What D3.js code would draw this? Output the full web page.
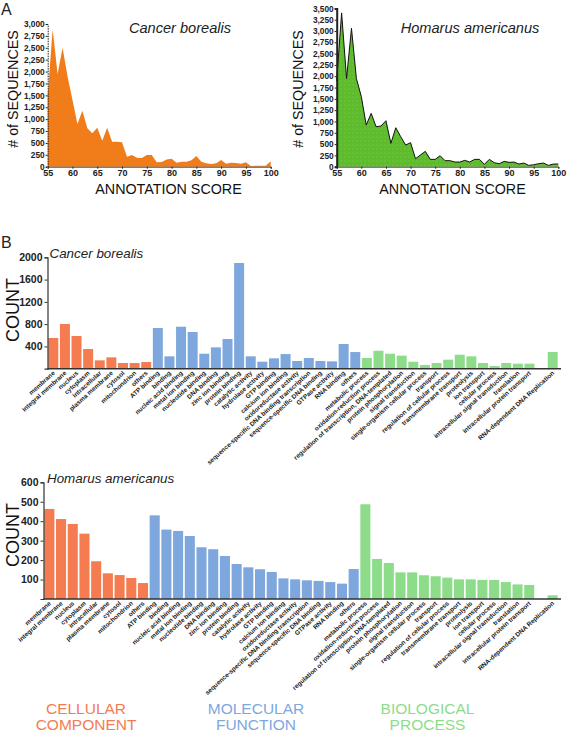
<!DOCTYPE html>
<html><head><meta charset="utf-8">
<script src="https://cdn.jsdelivr.net/npm/d3@7/dist/d3.min.js"></script>
<style>body{margin:0;background:#fff}svg{display:block}text{font-family:"Liberation Sans",Arial,sans-serif}</style>
</head><body><svg id="c" width="567" height="734"></svg>
<script>
// ---------- Panel A data ----------
const scores = [55,56,57,58,59,60,61,62,63,64,65,66,67,68,69,70,71,72,73,74,75,76,77,78,79,80,81,82,83,84,85,86,87,88,89,90,91,92,93,94,95,96,97,98,99,100];
const cancerSeq = [1500,2888,1949,2503,1900,1400,897,1178,806,701,820,547,820,526,526,512,210,245,189,182,245,245,91,98,154,168,84,105,105,133,224,105,70,56,70,140,63,84,77,63,91,14,21,21,21,112];
const homarusSeq = [1900,3400,1950,3060,1950,1550,921,1179,884,899,1017,516,862,663,479,531,177,258,339,162,162,243,133,133,103,103,140,103,162,162,52,162,88,66,118,96,103,59,81,29,44,66,81,29,59,59];
const scoreTicks = [55,60,65,70,75,80,85,90,95,100];
const cancerSeqTicks = [0,250,500,750,1000,1250,1500,1750,2000,2250,2500,2750,3000];
const homarusSeqTicks = [0,250,500,750,1000,1250,1500,1750,2000,2250,2500,2750,3000,3250,3500];

// ---------- Panel B data ----------
const ccCats = ["membrane","integral membrane","nucleus","cytoplasm","intracellular","plasma membrane","cytosol","mitochondrion","others"];
const mfCats = ["ATP binding","binding","nucleic acid binding","metal ion binding","nucleotide binding","DNA binding","zinc ion binding","protein binding","catalytic activity","hydrolase activity","GTP binding","calcium ion binding","oxidoreductase activity","sequence-specific DNA binding transcription","sequence-specific DNA binding","GTPase activity","RNA binding","others "];
const bpCats = ["metabolic process","oxidation-reduction process","regulation of transcription, DNA-templated","protein phosphorylation","signal transduction","single-organism cellular process","transport","regulation of cellular process","transmembrane transport","proteolysis","ion transport","cellular process","intracellular signal transduction","translation","intracellular protein transport","","RNA-dependent DNA Replication"];

const ccCancer = [551,802,587,353,150,204,102,102,120];
const mfCancer = [731,222,754,659,269,383,533,1898,222,126,186,263,138,192,138,132,443,299];
const bpCancer = [192,323,269,234,126,66,102,162,251,222,102,48,102,90,90,null,299];

const ccHomarus = [463,411,386,336,194,132,123,108,82];
const mfHomarus = [430,357,350,324,266,256,221,180,163,153,139,106,101,96,93,87,79,154];
const bpHomarus = [487,206,185,137,137,122,117,110,101,101,98,98,87,75,72,null,19];

const countTicksCancer = [400,800,1200,1600,2000];
const countTicksHomarus = [100,200,300,400,500,600];

const groupNames = [["CELLULAR","COMPONENT"],["MOLECULAR","FUNCTION"],["BIOLOGICAL","PROCESS"]];
const groupColors = ["#f47c50","#7ea7de","#8ddc8a"];

// ---------- drawing ----------
const svg = d3.select("#c");
const FONT = '"Liberation Sans",Arial,sans-serif';

svg.append("text").attr("x",1).attr("y",15).attr("font-size",16).attr("fill","#222").text("A");
svg.append("text").attr("x",1).attr("y",248).attr("font-size",16).attr("fill","#222").text("B");

const defs = svg.append("defs");
const pat = defs.append("pattern").attr("id","dots").attr("width",4).attr("height",4).attr("patternUnits","userSpaceOnUse");
pat.append("rect").attr("width",4).attr("height",4).attr("fill","#5dbb2c");
pat.append("circle").attr("cx",1).attr("cy",1).attr("r",0.45).attr("fill","#a9e08c");

function areaChart(opt){
  const x = d3.scaleLinear().domain([55,100]).range(opt.xr);
  const y = d3.scaleLinear().domain([0,opt.max]).range(opt.yr);
  const data = opt.scores.map((s,i)=>({s, v:opt.vals[i]}));
  const g = svg.append("g");
  g.append("path").datum(data)
    .attr("d", d3.area().x(d=>x(d.s)).y0(y(0)).y1(d=>y(d.v)))
    .attr("fill", opt.fill);
  if(opt.stroke){
    g.append("path").datum(data)
      .attr("d", d3.line().x(d=>x(d.s)).y(d=>y(d.v)))
      .attr("fill","none").attr("stroke",opt.stroke).attr("stroke-width",1);
  }
  const ya = g.append("g").attr("transform",`translate(${opt.xr[0]},0)`)
    .call(d3.axisLeft(y).tickValues(opt.yticks).tickSize(2).tickPadding(1).tickFormat(d3.format(",")));
  ya.select(".domain").attr("stroke","#222").attr("stroke-width",opt.axisW).attr("stroke-dasharray",opt.dash||null);
  ya.selectAll(".tick line").attr("stroke","#222");
  ya.selectAll("text").attr("font-size",8.3).attr("font-weight","bold").attr("fill","#222").attr("font-family",FONT);
  const xa = g.append("g").attr("transform",`translate(0,${opt.yr[0]})`)
    .call(d3.axisBottom(x).tickValues(opt.xticks).tickSize(2).tickPadding(1));
  xa.select(".domain").attr("stroke","#444");
  xa.selectAll(".tick line").attr("stroke","#222");
  xa.selectAll("text").attr("font-size",9).attr("font-weight","bold").attr("fill","#222").attr("font-family",FONT);
  g.append("text").attr("x",opt.xlabX).attr("y",194).attr("text-anchor","middle").attr("font-size",14.3).attr("fill","#111").text("ANNOTATION SCORE");
  g.append("text").attr("transform",`translate(${opt.ylabX},89) rotate(-90)`).attr("text-anchor","middle").attr("font-size",14.3).attr("fill","#111").text("# of SEQUENCES");
  g.append("text").attr("x",opt.titleX).attr("y",33).attr("text-anchor","middle").attr("font-size",14.6).attr("font-style","italic").attr("fill","#222").text(opt.title);
}

areaChart({scores, vals:cancerSeq, xr:[47.7,270.7], yr:[166.7,24], max:3000, fill:"#f07d19",
  yticks:cancerSeqTicks, xticks:scoreTicks, axisW:1, dash:"1.5,1", xlabX:168.5, ylabX:18, titleX:180, title:"Cancer borealis"});
areaChart({scores, vals:homarusSeq, xr:[336.7,558.3], yr:[166.7,8.4], max:3500, fill:"url(#dots)", stroke:"#111",
  yticks:homarusSeqTicks, xticks:scoreTicks, axisW:2, xlabX:452.5, ylabX:302.5, titleX:470, title:"Homarus americanus"});

const allCats = ccCats.concat(mfCats, bpCats);
const catGroup = allCats.map((c,i)=> i<ccCats.length?0:(i<ccCats.length+mfCats.length?1:2));

function barChart(opt){
  const vals = opt.cc.concat(opt.mf, opt.bp);
  const x = d3.scaleBand().domain(allCats).range(opt.xr).paddingInner(0.14).paddingOuter(0.07);
  const y = d3.scaleLinear().domain([0,opt.max]).range(opt.yr);
  const g = svg.append("g");
  g.selectAll("rect").data(allCats.map((c,i)=>({c,v:vals[i],grp:catGroup[i]})).filter(d=>d.v!=null))
    .enter().append("rect")
    .attr("x",d=>x(d.c)).attr("width",x.bandwidth())
    .attr("y",d=>y(d.v)).attr("height",d=>y(0)-y(d.v))
    .attr("fill",d=>groupColors[d.grp]);
  const ya = g.append("g").attr("transform",`translate(${opt.axisX},0)`)
    .call(d3.axisLeft(y).tickValues(opt.ticks).tickSize(3).tickPadding(2).tickFormat(d3.format("d")));
  ya.select(".domain").attr("stroke","#333").attr("stroke-width",1.2);
  ya.selectAll(".tick line").attr("stroke","#333");
  ya.selectAll("text").attr("font-size",10.5).attr("font-weight","bold").attr("fill","#222").attr("font-family",FONT);
  g.append("line").attr("x1",opt.axisX).attr("x2",561).attr("y1",y(0)).attr("y2",y(0)).attr("stroke","#333").attr("stroke-width",1.5);
  g.selectAll("text.xl").data(allCats.filter(c=>c!=="")).enter().append("text").attr("class","xl")
    .attr("transform",c=>`translate(${x(c)+x.bandwidth()/2+2},${y(0)+5}) rotate(-42)`)
    .attr("text-anchor","end").attr("font-size",6.4).attr("font-weight","bold").attr("fill","#1a1a1a")
    .text(c=>c.trim());
  g.append("text").attr("x",opt.titleX).attr("y",opt.titleY).attr("font-size",13.4).attr("font-style","italic").attr("fill","#222").text(opt.title);
  g.append("text").attr("transform",`translate(19,${opt.countY}) rotate(-90)`).attr("text-anchor","middle").attr("font-size",18).attr("fill","#111").text("COUNT");
}

barChart({cc:ccCancer, mf:mfCancer, bp:bpCancer, xr:[47.5,558.5], yr:[368.7,257.3], max:2000, axisX:47.5,
  ticks:countTicksCancer, title:"Cancer borealis", titleX:49.5, titleY:258, countY:310});
barChart({cc:ccHomarus, mf:mfHomarus, bp:bpHomarus, xr:[43.5,558.5], yr:[599,482.3], max:600, axisX:43.5,
  ticks:countTicksHomarus, title:"Homarus americanus", titleX:47, titleY:483, countY:535});

const legX = [86,256,427.5];
groupNames.forEach((lines,i)=>{
  const t = svg.append("text").attr("text-anchor","middle").attr("font-size",15.5).attr("fill",groupColors[i]);
  t.append("tspan").attr("x",legX[i]).attr("y",714).text(lines[0]);
  t.append("tspan").attr("x",legX[i]).attr("y",730).text(lines[1]);
});
</script></body></html>
